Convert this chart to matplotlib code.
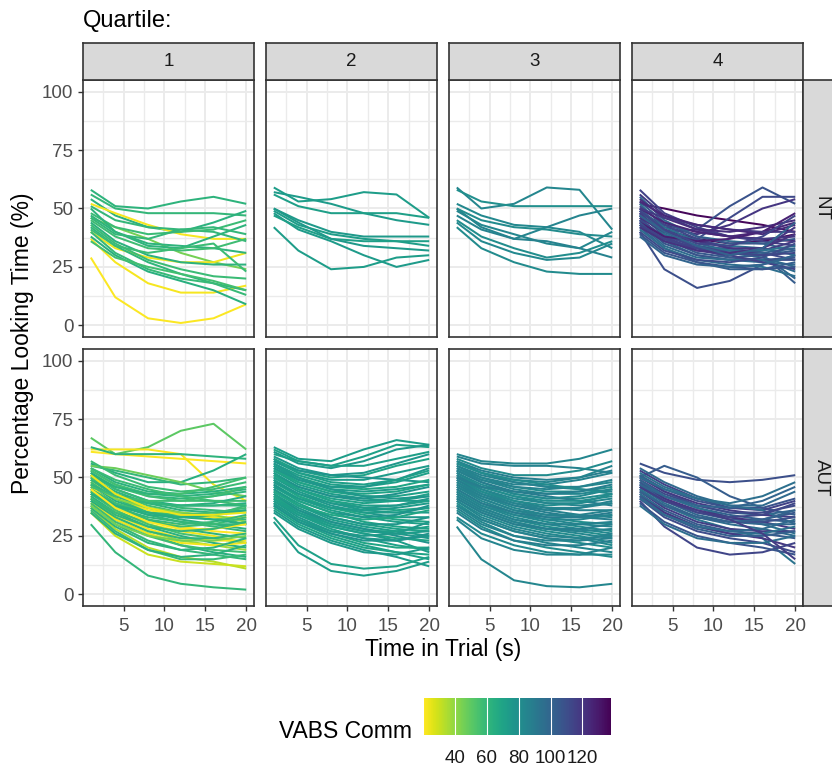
import matplotlib
matplotlib.use("Agg")
import matplotlib.pyplot as plt
from matplotlib import cm
from matplotlib.colors import Normalize

plt.rcParams['font.family'] = ['Liberation Sans', 'DejaVu Sans']

T = [1, 4, 8, 12, 16, 20]

quartiles = ["1", "2", "3", "4"]
groups = ["NT", "AUT"]

# (VABS Comm, % looking time at T)
nt_q1 = [
    (62, [58, 51, 50, 53, 55, 52]), (60, [56, 50, 48, 48, 48, 47]),
    (63, [54, 47, 42, 40, 44, 49]), (22, [52, 48, 43, 39, 37, 37]),
    (45, [46, 42, 37, 31, 27, 24]), (23, [40, 33, 29, 27, 27, 31]),
    (22, [37, 27, 18, 14, 14, 17]), (21, [29, 12, 3, 1, 3, 9]),
    (60, [51, 45, 42, 41, 40, 36]), (58, [48, 42, 39, 40, 41, 45]),
    (62, [47, 40, 35, 34, 33, 31]), (57, [45, 38, 33, 32, 33, 37]),
    (63, [44, 36, 30, 27, 26, 26]), (58, [43, 35, 28, 24, 21, 20]),
    (61, [42, 34, 27, 22, 18, 15]), (59, [40, 31, 24, 20, 18, 13]),
    (64, [38, 30, 23, 19, 15, 9]), (62, [50, 40, 34, 33, 38, 43]),
    (60, [46, 39, 37, 41, 42, 39]), (58, [41, 34, 31, 33, 35, 23]),
    (56, [36, 29, 25, 22, 19, 15]),
]

nt_q2 = [
    (73, [59, 53, 54, 57, 56, 46]), (74, [57, 55, 52, 48, 45, 43]),
    (72, [56, 51, 48, 48, 48, 46]), (75, [50, 45, 40, 38, 38, 38]),
    (73, [49, 43, 39, 37, 36, 34]), (74, [48, 41, 36, 30, 25, 28]),
    (72, [47, 42, 37, 36, 36, 36]), (73, [42, 32, 24, 25, 29, 30]),
    (75, [50, 44, 37, 34, 33, 32]),
]

nt_q3 = [
    (84, [59, 50, 52, 59, 58, 41]), (80, [58, 53, 51, 51, 51, 51]),
    (83, [52, 47, 43, 42, 40, 33]), (85, [50, 42, 37, 42, 47, 50]),
    (82, [50, 45, 42, 41, 39, 38]), (84, [49, 43, 39, 35, 33, 40]),
    (81, [45, 38, 33, 29, 31, 36]), (83, [44, 36, 31, 28, 29, 35]),
    (82, [42, 33, 27, 23, 22, 22]), (86, [47, 41, 37, 36, 33, 29]),
]

nt_q4 = [
    (136, [52, 50, 47, 45, 43, 40]), (134, [47, 41, 37, 35, 36, 39]),
    (130, [48, 43, 40, 38, 37, 36]), (110, [40, 24, 16, 19, 26, 30]),
    (108, [47, 40, 41, 51, 59, 52]), (112, [44, 37, 37, 46, 55, 55]),
    (120, [49, 42, 39, 43, 50, 54]), (104, [45, 37, 33, 33, 30, 18]),
    (100, [43, 36, 33, 32, 30, 20]), (115, [58, 48, 42, 38, 36, 34]),
    (118, [56, 47, 41, 38, 37, 38]), (98, [55, 45, 38, 36, 35, 32]),
    (122, [54, 46, 41, 40, 42, 45]), (106, [53, 44, 38, 35, 35, 37]),
    (95, [52, 42, 36, 34, 33, 30]), (112, [51, 43, 37, 33, 31, 28]),
    (102, [50, 41, 35, 32, 31, 33]), (125, [50, 44, 40, 38, 40, 44]),
    (96, [49, 40, 34, 31, 29, 25]), (110, [48, 39, 33, 29, 28, 28]),
    (117, [48, 38, 32, 30, 32, 36]), (94, [47, 39, 34, 32, 32, 34]),
    (105, [46, 37, 31, 29, 30, 32]), (120, [46, 40, 36, 33, 33, 42]),
    (99, [45, 36, 30, 28, 27, 26]), (113, [45, 38, 34, 31, 30, 31]),
    (127, [44, 38, 36, 37, 40, 48]), (108, [44, 35, 30, 28, 28, 29]),
    (97, [43, 34, 29, 28, 28, 23]), (115, [43, 37, 33, 30, 27, 24]),
    (103, [42, 33, 27, 24, 24, 27]), (121, [42, 36, 32, 31, 33, 39]),
    (96, [41, 33, 28, 26, 25, 21]), (111, [40, 32, 28, 27, 29, 35]),
    (107, [39, 31, 27, 25, 24, 25]), (100, [38, 30, 26, 25, 26, 30]),
    (118, [50, 46, 43, 41, 40, 40]), (124, [53, 47, 43, 41, 39, 43]),
    (101, [47, 40, 34, 30, 33, 44]), (114, [49, 41, 35, 34, 38, 47]),
]

aut_q1 = [
    (50, [67, 60, 63, 70, 73, 62]), (22, [62, 62, 62, 60, 47, 40]),
    (21, [61, 60, 59, 58, 57, 56]), (62, [63, 60, 60, 60, 59, 58]),
    (64, [56, 52, 48, 48, 53, 60]), (60, [55, 53, 50, 47, 48, 50]),
    (47, [55, 54, 51, 48, 44, 42]), (58, [57, 51, 46, 44, 45, 48]),
    (63, [54, 48, 44, 43, 44, 46]), (61, [53, 47, 42, 41, 42, 44]),
    (57, [52, 46, 42, 40, 40, 40]), (65, [52, 45, 40, 38, 38, 39]),
    (59, [51, 45, 40, 37, 36, 35]), (62, [50, 44, 39, 36, 35, 36]),
    (56, [50, 43, 38, 35, 33, 30]), (64, [49, 43, 39, 38, 39, 42]),
    (60, [49, 42, 37, 34, 32, 32]), (23, [48, 41, 36, 34, 33, 33]),
    (58, [48, 41, 35, 33, 34, 38]), (63, [47, 40, 35, 32, 30, 28]),
    (42, [47, 41, 37, 35, 34, 31]), (61, [46, 39, 34, 31, 30, 30]),
    (21, [46, 38, 32, 29, 27, 26]), (57, [45, 39, 35, 34, 35, 37]),
    (62, [45, 38, 32, 28, 26, 24]), (65, [44, 38, 34, 33, 34, 36]),
    (24, [44, 36, 30, 27, 25, 22]), (59, [44, 37, 32, 30, 31, 34]),
    (55, [43, 36, 30, 26, 24, 22]), (60, [43, 37, 33, 31, 29, 27]),
    (22, [42, 34, 28, 24, 23, 23]), (63, [42, 35, 29, 25, 22, 20]),
    (58, [41, 35, 31, 29, 30, 33]), (38, [41, 33, 27, 23, 21, 19]),
    (61, [40, 33, 27, 24, 24, 26]), (64, [40, 32, 26, 21, 18, 16]),
    (23, [39, 32, 26, 22, 21, 22]), (57, [39, 31, 25, 21, 19, 18]),
    (60, [38, 30, 23, 19, 17, 15]), (33, [37, 28, 20, 16, 14, 11]),
    (62, [37, 29, 22, 19, 20, 24]), (59, [36, 27, 19, 15, 15, 17]),
    (30, [35, 25, 17, 14, 13, 12]), (63, [35, 26, 19, 16, 17, 21]),
    (60, [30, 18, 8, 4.5, 3, 2]), (56, [53, 47, 43, 43, 46, 50]),
    (62, [51, 46, 43, 42, 43, 45]), (58, [54, 49, 45, 42, 40, 38]),
    (61, [47, 42, 39, 38, 38, 38]), (64, [43, 38, 35, 33, 32, 30]),
    (21, [45, 37, 31, 28, 28, 30]), (57, [46, 42, 40, 40, 42, 46]),
    (60, [41, 34, 29, 27, 28, 31]), (24, [51, 43, 37, 34, 34, 35]),
    (45, [38, 30, 25, 23, 23, 25]),
]

aut_q2 = [
    (73, [63, 58, 57, 62, 66, 64]), (71, [62, 57, 55, 59, 64, 63]),
    (75, [61, 56, 54, 57, 62, 64]), (72, [60, 57, 55, 55, 58, 61]),
    (76, [59, 54, 51, 52, 56, 60]), (70, [58, 53, 50, 51, 55, 58]),
    (74, [57, 52, 49, 49, 52, 55]), (77, [57, 53, 51, 50, 49, 48]),
    (72, [56, 51, 47, 46, 48, 52]), (69, [55, 50, 46, 45, 46, 49]),
    (74, [55, 49, 45, 44, 45, 47]), (71, [54, 48, 44, 42, 42, 44]),
    (76, [54, 49, 46, 46, 49, 54]), (73, [53, 47, 43, 41, 40, 40]),
    (70, [53, 48, 44, 43, 44, 47]), (75, [52, 46, 42, 40, 40, 42]),
    (72, [52, 45, 40, 38, 38, 40]), (78, [51, 46, 42, 41, 43, 46]),
    (70, [51, 45, 40, 37, 36, 37]), (74, [50, 44, 39, 36, 35, 35]),
    (71, [50, 45, 41, 39, 40, 43]), (76, [49, 43, 38, 35, 33, 33]),
    (73, [49, 42, 37, 35, 35, 37]), (69, [48, 42, 37, 34, 32, 31]),
    (75, [48, 43, 39, 37, 38, 41]), (72, [47, 41, 36, 33, 31, 30]),
    (77, [47, 40, 35, 33, 34, 38]), (70, [46, 40, 35, 31, 29, 28]),
    (74, [46, 41, 37, 36, 37, 39]), (71, [45, 39, 33, 30, 28, 27]),
    (76, [45, 38, 33, 30, 30, 33]), (73, [44, 38, 32, 29, 27, 25]),
    (69, [44, 38, 34, 32, 33, 36]), (75, [43, 37, 31, 28, 26, 24]),
    (72, [43, 36, 30, 27, 27, 29]), (78, [42, 36, 31, 28, 25, 22]),
    (70, [42, 35, 29, 26, 24, 23]), (74, [41, 35, 30, 27, 26, 27]),
    (71, [41, 34, 28, 24, 21, 19]), (76, [40, 33, 27, 24, 23, 25]),
    (73, [40, 34, 29, 26, 23, 18]), (69, [39, 32, 26, 22, 20, 20]),
    (75, [39, 32, 27, 25, 26, 31]), (72, [38, 31, 25, 21, 18, 15]),
    (77, [38, 31, 26, 23, 23, 26]), (70, [37, 30, 24, 20, 18, 17]),
    (74, [36, 29, 23, 19, 16, 12]), (71, [33, 21, 13, 11, 12, 16]),
    (73, [31, 18, 10, 8, 10, 14]), (76, [56, 50, 45, 42, 41, 42]),
    (72, [58, 52, 48, 47, 49, 53]), (75, [35, 28, 22, 18, 17, 20]),
]

aut_q3 = [
    (84, [60, 57, 56, 56, 58, 62]), (86, [59, 56, 55, 55, 54, 52]),
    (82, [58, 54, 51, 51, 53, 57]), (88, [57, 53, 50, 49, 50, 53]),
    (83, [57, 52, 48, 46, 46, 48]), (85, [56, 52, 49, 48, 50, 55]),
    (81, [55, 50, 46, 44, 44, 46]), (87, [55, 51, 48, 46, 45, 44]),
    (84, [54, 49, 45, 43, 43, 45]), (86, [54, 50, 47, 47, 49, 52]),
    (82, [53, 48, 43, 41, 41, 43]), (89, [53, 48, 44, 42, 40, 38]),
    (83, [52, 47, 43, 41, 42, 45]), (85, [52, 46, 42, 39, 38, 39]),
    (81, [51, 46, 42, 40, 40, 42]), (87, [51, 45, 40, 37, 36, 36]),
    (84, [50, 45, 41, 39, 39, 41]), (86, [50, 44, 39, 36, 34, 33]),
    (82, [49, 44, 40, 38, 39, 43]), (88, [49, 43, 38, 35, 33, 32]),
    (83, [48, 42, 37, 34, 33, 34]), (85, [48, 43, 39, 37, 37, 39]),
    (80, [47, 41, 36, 33, 31, 30]), (87, [47, 42, 38, 36, 37, 40]),
    (84, [46, 40, 35, 32, 30, 29]), (86, [46, 41, 36, 34, 34, 36]),
    (82, [45, 39, 34, 31, 29, 27]), (89, [45, 39, 35, 33, 33, 35]),
    (83, [44, 38, 33, 30, 28, 26]), (85, [44, 38, 34, 32, 32, 34]),
    (81, [43, 37, 32, 29, 27, 25]), (87, [43, 37, 32, 30, 30, 31]),
    (84, [42, 36, 31, 28, 26, 24]), (86, [42, 36, 31, 28, 27, 28]),
    (82, [41, 35, 30, 27, 25, 22]), (88, [41, 35, 30, 28, 28, 30]),
    (83, [40, 34, 29, 26, 24, 21]), (85, [40, 33, 28, 25, 24, 25]),
    (81, [39, 32, 27, 24, 22, 20]), (87, [38, 32, 27, 24, 23, 24]),
    (84, [38, 31, 25, 22, 20, 18]), (86, [37, 30, 25, 23, 23, 26]),
    (82, [36, 29, 23, 20, 18, 16]), (88, [35, 28, 23, 21, 21, 23]),
    (83, [33, 26, 21, 18, 17, 17]), (85, [32, 24, 19, 17, 17, 20]),
    (84, [29, 15, 6, 3.5, 3, 4.5]), (86, [53, 49, 46, 45, 46, 49]),
    (82, [56, 52, 49, 47, 45, 43]), (88, [50, 46, 44, 43, 44, 47]),
]

aut_q4 = [
    (110, [56, 52, 49, 48, 49, 51]), (104, [50, 55, 50, 42, 37, 34]),
    (98, [54, 48, 42, 38, 38, 44]), (115, [53, 47, 41, 37, 36, 40]),
    (95, [52, 46, 41, 39, 42, 48]), (108, [51, 45, 40, 37, 37, 41]),
    (100, [51, 44, 38, 35, 34, 36]), (118, [50, 44, 39, 36, 34, 33]),
    (96, [50, 45, 41, 38, 36, 30]), (112, [49, 43, 38, 35, 35, 38]),
    (102, [49, 42, 37, 34, 32, 31]), (94, [48, 42, 37, 33, 30, 26]),
    (106, [48, 41, 35, 32, 32, 35]), (120, [47, 41, 36, 33, 31, 28]),
    (99, [47, 40, 34, 31, 30, 30]), (113, [46, 40, 35, 33, 34, 39]),
    (97, [46, 39, 33, 30, 28, 25]), (109, [45, 38, 33, 31, 31, 33]),
    (93, [45, 38, 32, 28, 24, 13]), (116, [44, 37, 31, 28, 27, 27]),
    (101, [44, 38, 33, 31, 32, 36]), (105, [43, 36, 30, 27, 26, 24]),
    (95, [43, 35, 29, 26, 26, 29]), (119, [42, 35, 29, 26, 24, 20]),
    (103, [42, 34, 28, 25, 25, 27]), (111, [41, 33, 27, 24, 22, 18]),
    (98, [41, 34, 29, 27, 28, 32]), (114, [40, 29, 20, 17, 18, 22]),
    (107, [39, 31, 25, 22, 20, 17]), (96, [38, 30, 24, 22, 22, 25]),
    (117, [46, 40, 36, 32, 26, 15]), (100, [47, 42, 38, 37, 40, 46]),
]

panels = {
    ("NT", "1"): nt_q1, ("NT", "2"): nt_q2, ("NT", "3"): nt_q3, ("NT", "4"): nt_q4,
    ("AUT", "1"): aut_q1, ("AUT", "2"): aut_q2, ("AUT", "3"): aut_q3, ("AUT", "4"): aut_q4,
}

vabs_ticks = [40, 60, 80, 100, 120]
cmap = matplotlib.colormaps["viridis_r"]
norm = Normalize(vmin=20.5, vmax=138)

W, H = 832, 768
fig = plt.figure(figsize=(W / 100, H / 100), dpi=100)


def px_axes(x0, y0, x1, y1):
    return fig.add_axes([x0 / W, 1 - y1 / H, (x1 - x0) / W, (y1 - y0) / H])


col_x = [83, 266, 449, 632]
pw = 171
row_y = [(80, 337), (349, 606)]
border = '#333333'
strip_fill = '#D9D9D9'

for r, grp in enumerate(groups):
    y0, y1 = row_y[r]
    for c, q in enumerate(quartiles):
        x0 = col_x[c]
        ax = px_axes(x0, y0, x0 + pw, y1)
        for vabs, vals in panels[(grp, q)]:
            ax.plot(T, vals, color=cmap(norm(vabs)), lw=1.45,
                    solid_capstyle='butt', solid_joinstyle='round')
        ax.set_xlim(0.05, 20.95)
        ax.set_ylim(-5, 105)
        ax.set_xticks([5, 10, 15, 20])
        ax.set_xticks([2.5, 7.5, 12.5, 17.5], minor=True)
        ax.set_yticks([0, 25, 50, 75, 100])
        ax.set_yticks([12.5, 37.5, 62.5, 87.5], minor=True)
        ax.grid(which='major', color='#EBEBEB', lw=1.4)
        ax.grid(which='minor', color='#EBEBEB', lw=1.0)
        ax.set_axisbelow(True)
        for s in ax.spines.values():
            s.set_color(border)
            s.set_linewidth(1.2)
        ax.tick_params(which='minor', length=0)
        ax.tick_params(which='major', length=3.6, width=1, color=border,
                       labelcolor='#4D4D4D', labelsize=13.5, pad=3.4)
        ax.tick_params(axis='x', pad=5)
        if c > 0:
            ax.tick_params(left=False, labelleft=False)
        if r == 0:
            ax.tick_params(bottom=False, labelbottom=False)

        # top strips
        if r == 0:
            sx = px_axes(x0, 43, x0 + pw, 80)
            sx.set_facecolor(strip_fill)
            sx.set_xticks([])
            sx.set_yticks([])
            for s in sx.spines.values():
                s.set_color(border)
                s.set_linewidth(1.2)
            sx.text(0.5, 0.5, q, ha='center', va='center', fontsize=13.5,
                    color='#1A1A1A', transform=sx.transAxes)

    # right strips
    sy = px_axes(803, y0, 840, y1)
    sy.set_facecolor(strip_fill)
    sy.set_xticks([])
    sy.set_yticks([])
    for s in sy.spines.values():
        s.set_color(border)
        s.set_linewidth(1.2)
    sy.text(821.5 / W, 1 - (y0 + y1) / 2 / H, grp, ha='center', va='center',
            rotation=-90, fontsize=13.5, color='#1A1A1A', transform=fig.transFigure)

fig.text(83 / W, 1 - 27 / H, "Quartile:", ha='left', va='baseline', fontsize=17)
fig.text(443 / W, 1 - 656 / H, "Time in Trial (s)", ha='center', va='baseline',
         fontsize=16.5)
fig.text(23 / W, 1 - 343 / H, "Percentage Looking Time (%)", ha='center', va='center',
         rotation=90, fontsize=16.5)

# colourbar legend
cax = px_axes(424, 698, 611, 735)
sm = cm.ScalarMappable(norm=norm, cmap=cmap)
cb = fig.colorbar(sm, cax=cax, orientation='horizontal', ticks=vabs_ticks)
cb.outline.set_visible(False)
cax.tick_params(length=0, labelsize=13.5, labelcolor='#1A1A1A', pad=11)
for v in vabs_ticks:
    cax.axvline(v, color='white', lw=0.8)
fig.text(412 / W, 1 - 738 / H, "VABS Comm", ha='right', va='baseline', fontsize=16.5)

fig.savefig("out.png", dpi=100)
